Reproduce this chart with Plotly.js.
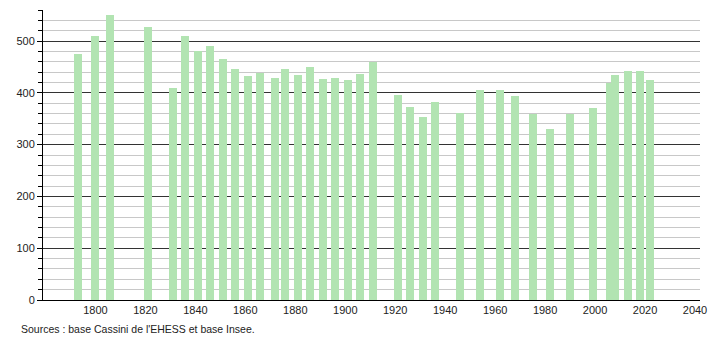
<!DOCTYPE html>
<html>
<head>
<meta charset="utf-8">
<script src="https://cdn.plot.ly/plotly-3.0.1.min.js"></script>
<style>html,body{margin:0;padding:0;background:#fff;}#chart{width:710px;height:340px;}</style>
</head>
<body>
<div id="chart"></div>
<script>
const years = [1793,1800,1806,1821,1831,1836,1841,1846,1851,1856,1861,1866,1872,1876,1881,1886,1891,1896,1901,1906,1911,1921,1926,1931,1936,1946,1954,1962,1968,1975,1982,1990,1999,2006,2008,2013,2018,2022];
const population = [475,510,551,527,409,510,480,490,465,446,432,439,428,446,434,450,426,428,424,436,460,395,372,353,382,362,405,405,393,360,331,360,370,420,434,442,442,424];
const xTicks = [1800,1820,1840,1860,1880,1900,1920,1940,1960,1980,2000,2020,2040];
const sourceText = "Sources : base Cassini de l'EHESS et base Insee.";

const trace = {
  type: 'bar',
  x: years,
  y: population,
  width: 3.2,
  marker: {color: '#b2e4b2', line: {width: 0}},
  hoverinfo: 'x+y'
};

const layout = {
  width: 710, height: 340,
  margin: {l: 43, r: 10, t: 10, b: 40},
  paper_bgcolor: '#fff', plot_bgcolor: '#fff',
  font: {family: '"Liberation Sans", Arial, sans-serif', size: 11, color: '#222'},
  showlegend: false,
  bargap: 0,
  xaxis: {
    range: [1779, 2042],
    tickvals: xTicks,
    ticktext: xTicks.map(String),
    showgrid: false, zeroline: false,
    showline: true, linecolor: '#000', linewidth: 1,
    ticks: '', ticklen: 0,
    tickfont: {size: 11, color: '#222'}
  },
  yaxis: {
    range: [0, 560],
    dtick: 100, tick0: 0,
    showgrid: true, gridcolor: '#333', gridwidth: 1,
    zeroline: false,
    showline: true, linecolor: '#000', linewidth: 1,
    ticks: 'outside', ticklen: 5, tickcolor: '#000',
    tickfont: {size: 11, color: '#222'},
    minor: {dtick: 20, tick0: 0, showgrid: true, gridcolor: '#c8c8c8', gridwidth: 1, ticks: 'outside', ticklen: 4, tickcolor: '#000'}
  },
  annotations: [{
    text: sourceText,
    xref: 'paper', yref: 'paper',
    x: -0.036, y: -0.1,
    xanchor: 'left', yanchor: 'middle',
    showarrow: false,
    font: {size: 10.5, color: '#222'}
  }]
};

Plotly.newPlot('chart', [trace], layout, {displayModeBar: false, staticPlot: true});
</script>
</body>
</html>
